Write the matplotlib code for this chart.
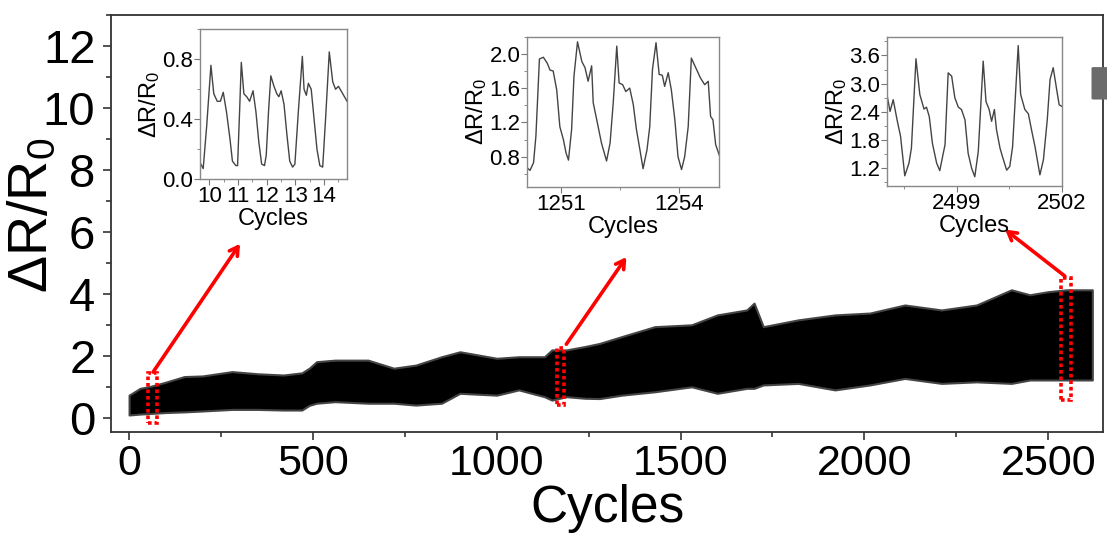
import matplotlib
matplotlib.use("Agg")
import matplotlib.pyplot as plt
from matplotlib.patches import Rectangle, FancyBboxPatch
from matplotlib.ticker import MultipleLocator

plt.rcParams['font.family'] = ['Liberation Sans', 'DejaVu Sans']
plt.rcParams['mathtext.fontset'] = 'custom'
plt.rcParams['mathtext.rm'] = 'Liberation Sans'
plt.rcParams['mathtext.default'] = 'regular'

# -----------------------------
# Main trace: envelope of the dense cycling signal
# -----------------------------
band_x = [0, 30, 60, 100, 150, 200, 280, 350, 420, 470, 490, 510, 560, 650, 720,
          780, 850, 900, 1000, 1060, 1130, 1150, 1190, 1240, 1280, 1340, 1430,
          1530, 1600, 1680, 1700, 1725, 1820, 1920, 2015, 2110, 2210, 2305,
          2400, 2450, 2500, 2550, 2620]
band_upper = [0.73, 0.95, 1.02, 1.15, 1.33, 1.35, 1.49, 1.42, 1.38, 1.45, 1.6,
              1.81, 1.86, 1.86, 1.6, 1.7, 1.97, 2.13, 1.92, 1.97, 1.97, 2.19,
              2.19, 2.3, 2.4, 2.62, 2.94, 3.0, 3.32, 3.48, 3.7, 2.94, 3.16, 3.32,
              3.38, 3.64, 3.48, 3.64, 4.13, 3.97, 4.07, 4.13, 4.13]
band_lower = [0.09, 0.12, 0.14, 0.17, 0.19, 0.22, 0.27, 0.27, 0.25, 0.25, 0.4,
              0.47, 0.52, 0.47, 0.47, 0.41, 0.47, 0.79, 0.73, 0.9, 0.68, 0.57,
              0.68, 0.63, 0.62, 0.73, 0.84, 1.0, 0.79, 0.95, 0.95, 1.06, 1.11,
              0.9, 1.06, 1.27, 1.11, 1.16, 1.11, 1.22, 1.22, 1.22, 1.22]

# -----------------------------
# Inset traces (zoomed windows)
# -----------------------------
ins1_x = [9.67, 9.78, 9.9, 10.05, 10.15, 10.27, 10.38, 10.48, 10.6, 10.72, 10.8,
          10.92, 10.98, 11.05, 11.11, 11.2, 11.3, 11.4, 11.52, 11.62, 11.72,
          11.82, 11.92, 11.98, 12.06, 12.14, 12.25, 12.35, 12.42, 12.5, 12.6,
          12.7, 12.8, 12.9, 12.98, 13.1, 13.24, 13.3, 13.38, 13.45, 13.55,
          13.65, 13.75, 13.85, 13.95, 14.05, 14.18, 14.3, 14.4, 14.5, 14.62, 14.8]
ins1_y = [0.11, 0.07, 0.35, 0.76, 0.57, 0.52, 0.52, 0.58, 0.44, 0.26, 0.12,
          0.09, 0.09, 0.45, 0.78, 0.57, 0.55, 0.52, 0.59, 0.45, 0.25, 0.1,
          0.09, 0.16, 0.45, 0.69, 0.62, 0.57, 0.55, 0.59, 0.5, 0.3, 0.12,
          0.08, 0.1, 0.45, 0.82, 0.6, 0.56, 0.64, 0.6, 0.4, 0.2, 0.09, 0.08,
          0.4, 0.85, 0.65, 0.6, 0.62, 0.58, 0.52]

ins2_x = [1250.14, 1250.21, 1250.3, 1250.36, 1250.45, 1250.55, 1250.65, 1250.72,
          1250.8, 1250.89, 1250.97, 1251.06, 1251.13, 1251.19, 1251.27, 1251.33,
          1251.42, 1251.53, 1251.61, 1251.69, 1251.78, 1251.82, 1251.91, 1252.03,
          1252.16, 1252.25, 1252.33, 1252.42, 1252.48, 1252.57, 1252.65, 1252.75,
          1252.84, 1252.92, 1253.01, 1253.09, 1253.19, 1253.26, 1253.33, 1253.42,
          1253.5, 1253.58, 1253.64, 1253.73, 1253.81, 1253.9, 1253.98, 1254.07,
          1254.15, 1254.24, 1254.32, 1254.45, 1254.55, 1254.66, 1254.75, 1254.81,
          1254.87, 1254.94, 1255.03]
ins2_y = [0.67, 0.64, 0.73, 1.04, 1.94, 1.96, 1.89, 1.81, 1.8, 1.58, 1.15, 1.0,
          0.84, 0.76, 1.12, 1.74, 2.14, 1.91, 1.84, 1.68, 1.86, 1.43, 1.23, 0.96,
          0.75, 0.96, 1.43, 2.09, 1.66, 1.64, 1.56, 1.6, 1.41, 1.12, 0.88, 0.66,
          0.88, 1.15, 1.82, 2.13, 1.76, 1.75, 1.62, 1.78, 1.58, 1.23, 0.8, 0.65,
          0.8, 1.15, 1.95, 1.82, 1.72, 1.64, 1.68, 1.27, 1.23, 0.94, 0.82]

ins3_x = [2497.02, 2497.1, 2497.19, 2497.3, 2497.4, 2497.52, 2497.64, 2497.71,
          2497.84, 2497.95, 2498.07, 2498.14, 2498.22, 2498.31, 2498.43, 2498.52,
          2498.62, 2498.67, 2498.76, 2498.86, 2498.95, 2499.05, 2499.14, 2499.24,
          2499.33, 2499.43, 2499.52, 2499.62, 2499.76, 2499.84, 2499.93, 2500.0,
          2500.08, 2500.14, 2500.24, 2500.31, 2500.43, 2500.52, 2500.6, 2500.76,
          2500.83, 2500.95, 2501.05, 2501.14, 2501.24, 2501.38, 2501.48, 2501.59,
          2501.67, 2501.76, 2501.86, 2501.93, 2502.0]
ins3_y = [2.73, 2.41, 2.66, 2.23, 1.88, 1.04, 1.31, 1.63, 3.53, 2.77, 2.46, 2.5,
          2.3, 1.73, 1.31, 1.15, 1.52, 1.7, 3.23, 3.16, 2.7, 2.5, 2.45, 2.23,
          1.52, 1.2, 1.02, 1.56, 3.48, 2.62, 2.45, 2.2, 2.45, 2.02, 1.63, 1.45,
          1.16, 1.24, 1.66, 3.81, 2.77, 2.45, 2.36, 2.02, 1.66, 1.06, 1.38, 2.23,
          3.09, 3.34, 2.87, 2.55, 2.52]

# windows marked on the main trace: (x0, x1, y0, y1)
boxes = [(52, 75, -0.18, 1.44), (1163, 1183, 0.41, 2.25), (2535, 2562, 0.57, 4.52)]
# arrows: (tail x, tail y, head x, head y)
arrows = [(61, 1.4, 306, 5.69), (1185, 2.3, 1357, 5.26), (2551, 4.52, 2377, 6.13)]

fig = plt.figure(figsize=(11.07, 5.41), dpi=100)
ax = fig.add_axes([0.1, 0.202, 0.8967, 0.7703])

ax.fill_between(band_x, band_lower, band_upper, facecolor="black",
                edgecolor="#444444", lw=1.5)

ax.set_xlim(-50, 2650)
ax.set_ylim(-0.45, 13.0)
ax.xaxis.set_major_locator(MultipleLocator(500))
ax.xaxis.set_minor_locator(MultipleLocator(250))
ax.yaxis.set_major_locator(MultipleLocator(2))
ax.yaxis.set_minor_locator(MultipleLocator(1))
ax.tick_params(which="both", direction="out", colors="#333333", width=1.2)
ax.tick_params(which="major", length=6)
ax.tick_params(which="minor", length=3.5)
ax.tick_params(axis="x", labelsize=31, labelcolor="black", pad=3)
ax.tick_params(axis="y", labelsize=34, labelcolor="black", pad=5)
for s in ax.spines.values():
    s.set_color("#333333")
    s.set_linewidth(1.3)
ax.set_xlabel("Cycles", fontsize=37, labelpad=0)
ax.set_ylabel("ΔR/R$_0$", fontsize=40)
ax.yaxis.set_label_coords(-0.052, 0.52)

for x0, x1, y0, y1 in boxes:
    ax.add_patch(Rectangle((x0, y0), x1 - x0, y1 - y0, fill=False,
                           edgecolor="red", lw=2.6, ls=(0, (1, 0.8))))
for tx, ty, hx, hy in arrows:
    ax.annotate("", xy=(hx, hy), xytext=(tx, ty),
                arrowprops=dict(arrowstyle="->,head_length=0.6,head_width=0.35",
                                color="red", lw=2.6))

# small grey artefact at the right edge
fig.patches.append(FancyBboxPatch((0.988, 0.818), 0.012, 0.056,
                                  boxstyle="round,pad=0.002", transform=fig.transFigure,
                                  facecolor="#6b6b6b", edgecolor="none"))


def make_inset(rect, xs, ys, xlim, ylim, xmaj, xmin, ymaj, ymin, yfmt):
    a = fig.add_axes(rect)
    a.plot(xs, ys, color="#444444", lw=1.0)
    a.set_xlim(*xlim)
    a.set_ylim(*ylim)
    a.xaxis.set_major_locator(MultipleLocator(xmaj))
    a.xaxis.set_minor_locator(MultipleLocator(xmin))
    a.yaxis.set_major_locator(MultipleLocator(ymaj))
    a.yaxis.set_minor_locator(MultipleLocator(ymin))
    a.yaxis.set_major_formatter(yfmt)
    a.tick_params(which="both", direction="out", colors="#777777", labelcolor="black",
                  labelsize=16, pad=1)
    a.tick_params(which="major", length=4)
    a.tick_params(which="minor", length=2)
    for s in a.spines.values():
        s.set_color("#888888")
        s.set_linewidth(1.0)
    a.set_xlabel("Cycles", fontsize=17, labelpad=1)
    a.set_ylabel("ΔR/R$_0$", fontsize=17, labelpad=0)
    return a


make_inset([0.1807, 0.669, 0.1328, 0.2766], ins1_x, ins1_y, (9.67, 14.8), (0.0, 1.0),
           1, 0.5, 0.4, 0.2, "{x:.1f}")
make_inset([0.4763, 0.6549, 0.1734, 0.2773], ins2_x, ins2_y, (1250.14, 1255.03),
           (0.45, 2.2), 3, 1.5, 0.4, 0.2, "{x:.1f}")
make_inset([0.8015, 0.6568, 0.1575, 0.2754], ins3_x, ins3_y, (2497.02, 2502.0),
           (0.83, 4.0), 3, 1.5, 0.6, 0.3, "{x:.1f}")

fig.savefig("out.png", dpi=100)
